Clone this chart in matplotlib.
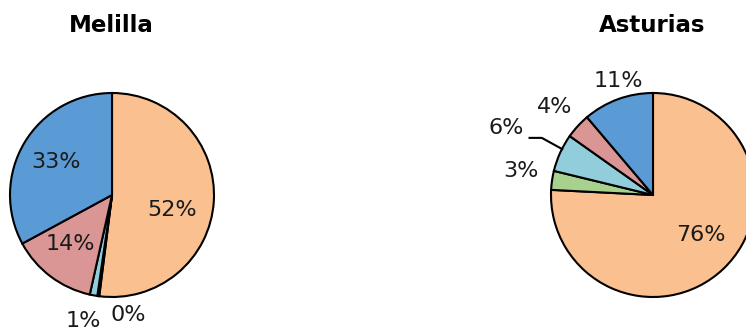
import matplotlib
matplotlib.use("Agg")
import matplotlib.pyplot as plt

# data
slices = ["naranja", "verde", "celeste", "rosa", "azul"]
colors = ["#FAC090", "#A9D18E", "#92CDDC", "#D99694", "#5B9BD5"]

melilla = [52.0, 0.3, 1.2, 13.6, 32.9]
melilla_labels = ["52%", "0%", "1%", "14%", "33%"]

asturias = [75.8, 3.0, 6.0, 4.0, 11.2]
asturias_labels = ["76%", "3%", "6%", "4%", "11%"]

W, H = 746, 331
R = 102  # pie radius in px

fig = plt.figure(figsize=(W / 100, H / 100), dpi=100)


def pie_axes(cx, cy, size=330):
    ax = fig.add_axes([(cx - size / 2) / W, (H - cy - size / 2) / H, size / W, size / H])
    return ax, size / 2 / R


def draw(ax, half, values, labels, label_pos):
    ax.pie(values, colors=colors, startangle=90, counterclock=False,
           wedgeprops=dict(edgecolor="black", linewidth=1.5))
    ax.set_xlim(-half, half)
    ax.set_ylim(-half, half)
    ax.set_aspect("equal")
    ax.axis("off")
    for lab, (x, y) in zip(labels, label_pos):
        ax.text(x, y, lab, ha="center", va="center", fontsize=16, color="#1a1a1a")


ax1, h1 = pie_axes(112, 195)
draw(ax1, h1, melilla, melilla_labels,
     [(0.59, -0.15), (0.16, -1.18), (-0.28, -1.24), (-0.41, -0.48), (-0.55, 0.32)])

ax2, h2 = pie_axes(653, 195)
draw(ax2, h2, asturias, asturias_labels,
     [(0.47, -0.39), (-1.29, 0.24), (-1.44, 0.66), (-0.96, 0.86), (-0.34, 1.12)])
ax2.plot([-1.21, -1.09, -0.89], [0.56, 0.56, 0.45], color="black", lw=1.5)

fig.text(111 / W, 1 - 25 / H, "Melilla", ha="center", va="center",
         fontsize=16.5, fontweight="bold")
fig.text(652 / W, 1 - 25 / H, "Asturias", ha="center", va="center",
         fontsize=16.5, fontweight="bold")

fig.savefig("out.png", dpi=100)
